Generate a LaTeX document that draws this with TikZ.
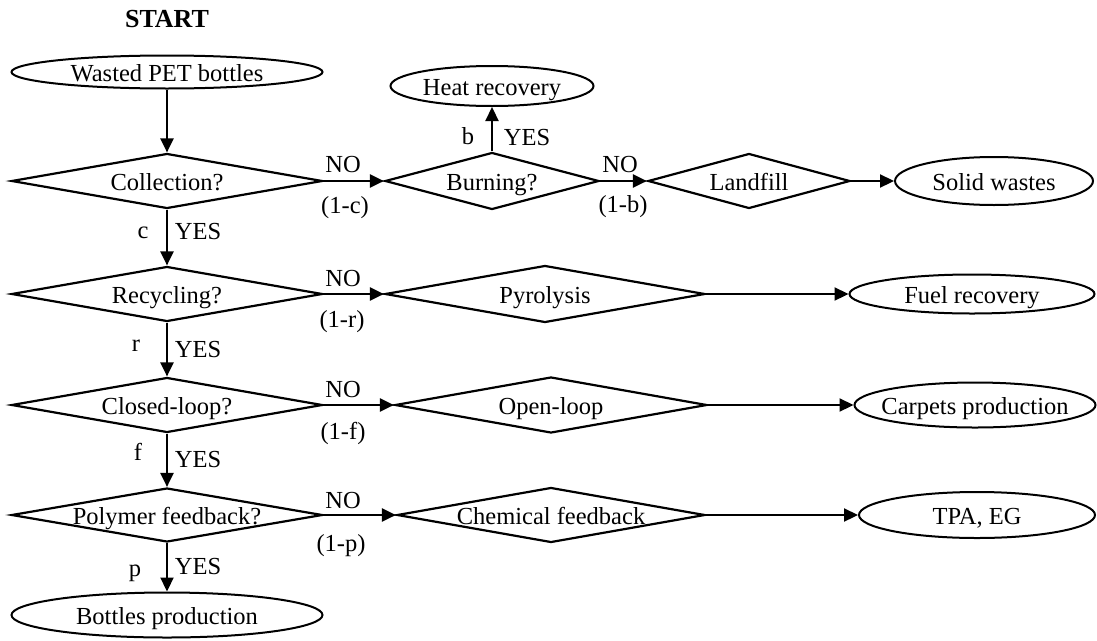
\documentclass[tikz,border=0pt]{standalone}
\usepackage{fontspec}
\setmainfont{Liberation Serif}
\usetikzlibrary{arrows.meta,shapes.geometric}
\newcommand\ctr[1]{\makebox[0pt]{#1}}
\begin{document}
\begin{tikzpicture}[x=1pt,y=-1pt,
  every node/.style={font=\fontsize{24.5}{28}\selectfont, text height=21pt, text depth=2pt, inner sep=0pt},
  dia/.style n args={2}{diamond, draw, line width=2.2pt, minimum width=#1, minimum height=#2},
  ell/.style n args={2}{ellipse, draw, line width=2pt, minimum width=#1, minimum height=#2},
  arr/.style={line width=2.2pt, -{Triangle[length=14pt,width=13pt]}},
  lbl/.style={}]
\useasboundingbox (0,0) rectangle (1097,640);
% title
\node[lbl, font=\fontsize{26}{30}\selectfont\bfseries] (start) at (167,18) {START};
% nodes
\node[ell={311}{33}] (wasted) at (167,72) {\ctr{Wasted PET bottles}};
\node[dia={311}{55}] (coll) at (167,181) {\ctr{Collection?}};
\node[dia={214}{57}] (burn) at (492,181) {\ctr{Burning?}};
\node[ell={203}{40}] (heat) at (492,86) {\ctr{Heat recovery}};
\node[dia={202}{55}] (land) at (749,181) {\ctr{Landfill}};
\node[ell={198}{48}] (solid) at (994,181) {\ctr{Solid wastes}};
\node[dia={311}{55}] (recy) at (167,294) {\ctr{Recycling?}};
\node[dia={320}{57}] (pyro) at (545,294) {\ctr{Pyrolysis}};
\node[ell={245}{39}] (fuel) at (972,294) {\ctr{Fuel recovery}};
\node[dia={311}{55}] (closed) at (167,405) {\ctr{Closed-loop?}};
\node[dia={312}{56}] (openl) at (551,405) {\ctr{Open-loop}};
\node[ell={241}{45}] (carp) at (975,405) {\ctr{Carpets production}};
\node[dia={311}{54}] (poly) at (167,515) {\ctr{Polymer feedback?}};
\node[dia={308}{55}] (chem) at (551,515) {\ctr{Chemical feedback}};
\node[ell={236}{46}] (tpa) at (977,515) {\ctr{TPA, EG}};
\node[ell={311}{45}] (bott) at (167,615) {\ctr{Bottles production}};
% connectors
\draw[arr] (wasted) -- (coll);
\draw[arr] (coll.east) -- (burn.west);
\draw[arr] (burn.north) -- (heat.south);
\draw[arr] (burn.east) -- (land.west);
\draw[arr] (land.east) -- (solid.west);
\draw[arr] (coll.south) -- (recy.north);
\draw[arr] (recy.east) -- (pyro.west);
\draw[arr] (pyro.east) -- (fuel.west);
\draw[arr] (recy.south) -- (closed.north);
\draw[arr] (closed.east) -- (openl.west);
\draw[arr] (openl.east) -- (carp.west);
\draw[arr] (closed.south) -- (poly.north);
\draw[arr] (poly.east) -- (chem.west);
\draw[arr] (chem.east) -- (tpa.west);
\draw[arr] (poly.south) -- (bott.north);
% labels
\node[lbl] (no1) at (343,163) {NO};
\node[lbl] (pc) at (345,204) {(1-c)};
\node[lbl] (lb) at (468,135) {b};
\node[lbl] (yb) at (527,136) {YES};
\node[lbl] (no2) at (620,163) {NO};
\node[lbl] (pb) at (623,203) {(1-b)};
\node[lbl] (lc) at (143,229) {c};
\node[lbl] (yc) at (198,230) {YES};
\node[lbl] (no3) at (343,277) {NO};
\node[lbl] (pr) at (342,318) {(1-r)};
\node[lbl] (lr) at (136,342) {r};
\node[lbl] (yr) at (198,348) {YES};
\node[lbl] (no4) at (343,388) {NO};
\node[lbl] (pf) at (343,430) {(1-f)};
\node[lbl] (lf) at (138,451) {f};
\node[lbl] (yf) at (198,458) {YES};
\node[lbl] (no5) at (343,499) {NO};
\node[lbl] (pp) at (341,542) {(1-p)};
\node[lbl] (lp) at (135,567) {p};
\node[lbl] (yp) at (198,565) {YES};
\end{tikzpicture}
\end{document}
